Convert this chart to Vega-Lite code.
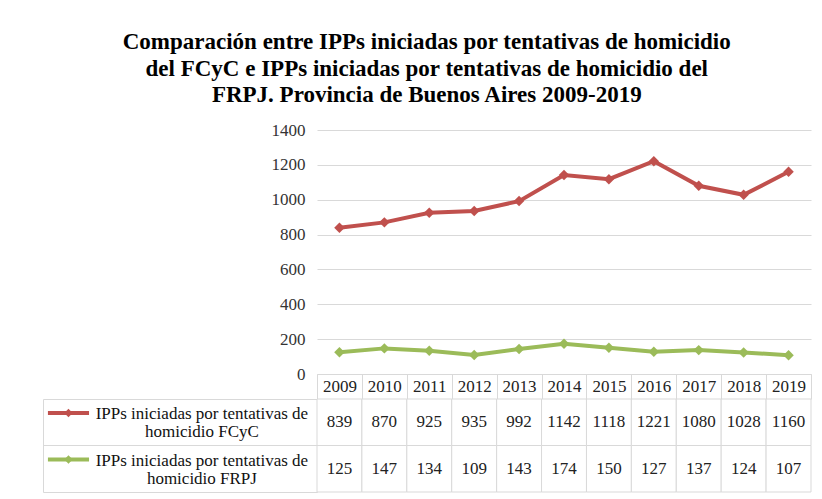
{
  "$schema": "https://vega.github.io/schema/vega-lite/v6.json",
  "padding": {"left": 42, "top": 31, "right": 5, "bottom": 5},
  "background": "white",
  "title": {
    "text": ["Comparación  entre IPPs iniciadas por tentativas de homicidio", "del FCyC  e IPPs iniciadas  por tentativas de homicidio  del", "FRPJ. Provincia  de Buenos Aires 2009-2019"],
    "font": "Times New Roman, Liberation Serif, serif", "fontSize": 23, "fontWeight": "bold", "lineHeight": 26.5,
    "anchor": "middle", "color": "#000000", "offset": 14
  },
  "datasets": {
    "d": [
      {"year": 2009, "series": "FCyC", "value": 839},
      {"year": 2010, "series": "FCyC", "value": 870},
      {"year": 2011, "series": "FCyC", "value": 925},
      {"year": 2012, "series": "FCyC", "value": 935},
      {"year": 2013, "series": "FCyC", "value": 992},
      {"year": 2014, "series": "FCyC", "value": 1142},
      {"year": 2015, "series": "FCyC", "value": 1118},
      {"year": 2016, "series": "FCyC", "value": 1221},
      {"year": 2017, "series": "FCyC", "value": 1080},
      {"year": 2018, "series": "FCyC", "value": 1028},
      {"year": 2019, "series": "FCyC", "value": 1160},
      {"year": 2009, "series": "FRPJ", "value": 125},
      {"year": 2010, "series": "FRPJ", "value": 147},
      {"year": 2011, "series": "FRPJ", "value": 134},
      {"year": 2012, "series": "FRPJ", "value": 109},
      {"year": 2013, "series": "FRPJ", "value": 143},
      {"year": 2014, "series": "FRPJ", "value": 174},
      {"year": 2015, "series": "FRPJ", "value": 150},
      {"year": 2016, "series": "FRPJ", "value": 127},
      {"year": 2017, "series": "FRPJ", "value": 137},
      {"year": 2018, "series": "FRPJ", "value": 124},
      {"year": 2019, "series": "FRPJ", "value": 107}
    ]
  },
  "columns": 2,
  "spacing": {"row": 25, "column": 0},
  "bounds": "flush",
  "align": "each",
  "concat": [
    {
      "width": 274, "height": 244,
      "data": {"values": [{"a": 1}]},
      "mark": {"type": "text", "text": ""}
    },
    {
      "width": 494, "height": 244,
      "data": {"name": "d"},
      "encoding": {
        "x": {
          "field": "year", "type": "ordinal", "bandPosition": 0.5,
          "scale": {"type": "band", "paddingInner": 0, "paddingOuter": 0},
          "axis": {
            "title": null, "labelAngle": 0, "domainColor": "#d9d9d9", "tickColor": "#d9d9d9",
            "tickSize": 25, "tickBand": "extent", "labelBaseline": "middle", "labelPadding": -12.5,
            "labelFont": "Times New Roman, Liberation Serif, serif", "labelFontSize": 17, "labelColor": "#222222"
          }
        },
        "y": {
          "field": "value", "type": "quantitative",
          "scale": {"domain": [0, 1400], "nice": false},
          "axis": {
            "title": null, "values": [0, 200, 400, 600, 800, 1000, 1200, 1400], "format": "d",
            "domain": false, "ticks": false, "gridColor": "#d9d9d9", "labelPadding": 12,
            "labelFont": "Times New Roman, Liberation Serif, serif", "labelFontSize": 17, "labelColor": "#333333"
          }
        },
        "color": {
          "field": "series", "type": "nominal",
          "scale": {"domain": ["FCyC", "FRPJ"], "range": ["#C0504D", "#9BBB59"]},
          "legend": null
        }
      },
      "layer": [
        {"mark": {"type": "line", "strokeWidth": 4}},
        {"mark": {"type": "point", "shape": "diamond", "filled": true, "size": 110, "opacity": 1}}
      ]
    },
    {
      "width": 274, "height": 93,
      "view": {"stroke": "#d9d9d9"},
      "data": {"values": [
        {"series": "FCyC", "label": "IPPs iniciadas por tentativas de\nhomicidio FCyC"},
        {"series": "FRPJ", "label": "IPPs iniciadas por tentativas de\nhomicidio FRPJ"}
      ]},
      "layer": [
        {
          "transform": [{"filter": "datum.series == 'FRPJ'"}],
          "mark": {"type": "rule", "color": "#d9d9d9", "strokeWidth": 1},
          "encoding": {
            "y": {"field": "series", "type": "nominal", "bandPosition": 0,
              "scale": {"type": "band", "domain": ["FCyC", "FRPJ"], "paddingInner": 0, "paddingOuter": 0}, "axis": null}
          }
        },
        {
          "mark": {"type": "rule", "strokeWidth": 4},
          "encoding": {
            "y": {"field": "series", "type": "nominal", "bandPosition": 0.3},
            "x": {"datum": 0.018, "type": "quantitative", "scale": {"domain": [0, 1], "nice": false}, "axis": null},
            "x2": {"datum": 0.168},
            "color": {"field": "series", "type": "nominal", "scale": {"domain": ["FCyC", "FRPJ"], "range": ["#C0504D", "#9BBB59"]}, "legend": null}
          }
        },
        {
          "mark": {"type": "point", "shape": "diamond", "filled": true, "size": 70, "opacity": 1},
          "encoding": {
            "y": {"field": "series", "type": "nominal", "bandPosition": 0.3},
            "x": {"datum": 0.093, "type": "quantitative"},
            "color": {"field": "series", "type": "nominal", "scale": {"domain": ["FCyC", "FRPJ"], "range": ["#C0504D", "#9BBB59"]}, "legend": null}
          }
        },
        {
          "mark": {"type": "text", "lineBreak": "\n", "font": "Times New Roman, Liberation Serif, serif", "fontSize": 17, "lineHeight": 18, "color": "#111111", "dy": -8},
          "encoding": {
            "y": {"field": "series", "type": "nominal", "bandPosition": 0.5},
            "x": {"datum": 0.58, "type": "quantitative"},
            "text": {"field": "label"}
          }
        }
      ]
    },
    {
      "width": 494, "height": 93,
      "data": {"name": "d"},
      "encoding": {
        "x": {"field": "year", "type": "ordinal", "scale": {"type": "band", "paddingInner": 0, "paddingOuter": 0}, "axis": null},
        "y": {"field": "series", "type": "nominal", "scale": {"type": "band", "domain": ["FCyC", "FRPJ"], "paddingInner": 0, "paddingOuter": 0}, "axis": null}
      },
      "layer": [
        {"mark": {"type": "rect", "fill": "white", "stroke": "#d9d9d9", "strokeWidth": 1}},
        {"mark": {"type": "text", "font": "Times New Roman, Liberation Serif, serif", "fontSize": 17, "color": "#222222"}, "encoding": {"text": {"field": "value"}}}
      ]
    }
  ],
  "config": {"view": {"stroke": null}, "font": "Times New Roman, Liberation Serif, serif"}
}
